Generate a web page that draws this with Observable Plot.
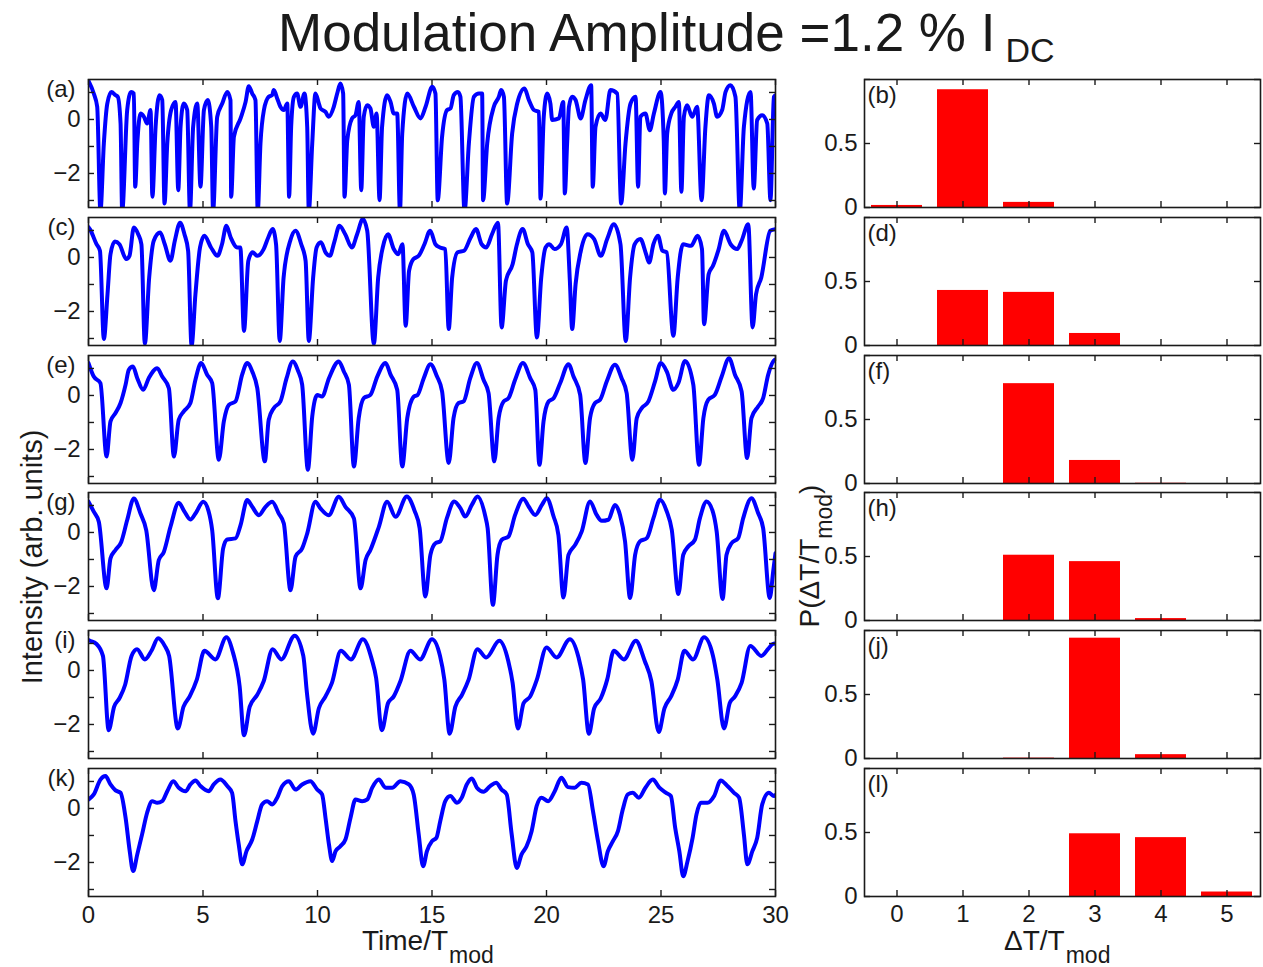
<!DOCTYPE html>
<html><head><meta charset="utf-8">
<script src="https://cdn.jsdelivr.net/npm/d3@7"></script>
<script src="https://cdn.jsdelivr.net/npm/@observablehq/plot@0.6"></script>
<style>
body{margin:0;background:#fff;font-family:"Liberation Sans",Arial,Helvetica,sans-serif;color:#1a1a1a;}
#root{position:relative;width:1263px;height:967px;overflow:hidden;background:#fff;}
#root svg{overflow:visible;max-width:none;}
.lbl{position:absolute;white-space:nowrap;}
.sub{position:relative;}
</style></head><body>
<div id="root">
  <div class="lbl" style="left:278px;top:6px;font-size:53px;line-height:53px;">Modulation Amplitude =1.2 % I<span class="sub" style="font-size:34px;top:11px;margin-left:10px;">DC</span></div>
  <div class="lbl" style="left:362px;top:927px;font-size:28px;line-height:28px;">Time/T<span class="sub" style="font-size:23px;top:13px;margin-left:1px;">mod</span></div>
  <div class="lbl" style="left:1004px;top:927px;font-size:28px;line-height:28px;">ΔT/T<span class="sub" style="font-size:23px;top:13px;margin-left:1px;">mod</span></div>
  <div class="lbl" style="left:32px;top:557px;font-size:29px;line-height:29px;transform:translate(-50%,-50%) rotate(-90deg);">Intensity (arb. units)</div>
  <div class="lbl" style="left:810px;top:556px;font-size:28px;line-height:28px;transform:translate(-50%,-50%) rotate(-90deg);">P(ΔT/T<span class="sub" style="font-size:23px;top:13px;">mod</span>)</div>
</div>
<script>
// ---------- data ----------
const timeTicks = [0, 5, 10, 15, 20, 25, 30];
const intensityTicks = [-3, -2, -1, 0, 1];
const intensityLabels = [-2, 0];
const delayBins = [0, 1, 2, 3, 4, 5];
const probTicks = [0, 0.5, 1];
const probLabels = [0, 0.5];
const leftLabels = ["(a)", "(c)", "(e)", "(g)", "(i)", "(k)"];
const rightLabels = ["(b)", "(d)", "(f)", "(h)", "(j)", "(l)"];

const traceA = [[0,1.43],[0.23,0.96],[0.38,0.47],[0.52,-3.4],[0.67,-0.89],[0.82,0.59],[1.0,1.02],[1.18,0.9],[1.28,0.84],[1.4,-0.15],[1.47,-3.4],[1.69,0.35],[1.86,1.02],[1.98,0.96],[2.04,-2.49],[2.13,-0.89],[2.27,0.22],[2.42,0.1],[2.56,-0.15],[2.71,0.35],[2.79,-2.86],[2.93,-0.27],[3.1,0.9],[3.22,0.72],[3.32,-3.11],[3.44,-0.89],[3.61,0.35],[3.8,0.65],[3.92,-2.62],[4.02,-0.27],[4.16,0.59],[4.31,0.35],[4.43,-3.4],[4.57,-0.27],[4.75,0.59],[4.89,-2.49],[5.04,0.35],[5.21,0.72],[5.36,-0.27],[5.44,-3.4],[5.62,0.1],[5.84,0.59],[6.06,1.02],[6.2,0.72],[6.23,-2.86],[6.35,-0.64],[6.64,0.04],[6.86,0.65],[7.0,1.23],[7.15,0.96],[7.29,0.72],[7.39,-3.4],[7.51,-0.89],[7.66,0.35],[7.87,0.84],[8.02,0.9],[8.09,1.09],[8.24,0.78],[8.38,0.47],[8.53,0.35],[8.68,0.59],[8.76,-2.86],[8.85,-0.27],[8.97,0.84],[9.11,0.96],[9.26,0.47],[9.43,0.96],[9.55,-0.27],[9.62,-3.4],[9.77,-0.89],[9.91,0.96],[10.06,0.59],[10.13,0.41],[10.35,0.28],[10.49,0.1],[10.71,0.47],[10.86,0.96],[11.0,1.33],[11.12,0.96],[11.18,-2.86],[11.3,-0.77],[11.51,0.04],[11.66,0.16],[11.8,0.65],[11.91,-2.62],[12.02,0.1],[12.17,0.53],[12.31,0.41],[12.46,-0.27],[12.58,0.22],[12.71,-2.99],[12.82,-0.27],[13.04,0.9],[13.19,0.65],[13.33,0.22],[13.48,0.22],[13.6,-3.4],[13.7,-0.52],[13.92,0.96],[14.21,0.47],[14.5,0.04],[14.72,0.47],[15.01,1.21],[15.15,0.96],[15.25,-2.99],[15.44,-0.64],[15.66,0.35],[15.81,0.41],[15.95,0.9],[16.13,1.02],[16.24,0.84],[16.42,-3.4],[16.61,-0.89],[16.83,0.84],[17.05,0.96],[17.19,0.96],[17.23,-2.99],[17.41,-0.89],[17.7,0.47],[17.92,0.84],[18.02,1.09],[18.14,0.84],[18.28,-3.11],[18.5,-0.52],[18.72,0.59],[19.04,1.15],[19.23,0.72],[19.45,0.35],[19.67,0.28],[19.74,-2.93],[19.88,0.1],[20.03,0.96],[20.17,0.59],[20.25,-0.02],[20.54,0.04],[20.73,0.65],[20.8,-2.74],[20.9,-0.89],[20.98,0.47],[21.12,0.84],[21.27,0.72],[21.49,0.04],[21.7,0.72],[21.95,1.27],[22.02,-2.49],[22.14,-0.27],[22.36,0.22],[22.57,-0.02],[22.79,1.09],[23.09,0.96],[23.26,-3.11],[23.45,-0.89],[23.67,0.59],[23.89,0.84],[24.0,-2.49],[24.1,0.1],[24.32,0.22],[24.51,-0.4],[24.69,0.22],[24.98,1.02],[25.12,-0.77],[25.17,-2.74],[25.27,-0.52],[25.45,0.22],[25.63,0.47],[25.78,0.65],[25.89,-2.68],[26.0,0.1],[26.14,0.53],[26.36,0.1],[26.58,0.47],[26.77,-2.99],[26.94,-0.27],[27.09,0.9],[27.31,0.59],[27.45,0.1],[27.67,0.35],[27.82,1.02],[28.03,1.27],[28.25,0.84],[28.44,-3.4],[28.62,-0.27],[28.91,1.02],[29.05,-2.56],[29.2,-0.02],[29.42,0.16],[29.64,-0.15],[29.78,-2.99],[29.93,0.84],[30,0.9]];

const traceC = [[0,1.12],[0.06,1.05],[0.35,0.49],[0.5,0.25],[0.67,-3.02],[0.83,-1.36],[0.96,0.12],[1.15,0.59],[1.35,0.49],[1.65,-0.06],[1.79,0.06],[1.98,1.11],[2.17,0.86],[2.31,0.49],[2.46,-3.2],[2.65,-0.74],[2.85,0.62],[3.13,0.92],[3.33,0.49],[3.58,-0.12],[3.77,0.62],[4.0,1.29],[4.19,0.86],[4.35,0.25],[4.5,-3.27],[4.67,-1.36],[4.87,0.37],[5.06,0.8],[5.35,0.37],[5.63,0.06],[5.83,0.49],[6.02,1.17],[6.21,0.74],[6.5,0.37],[6.63,0.37],[6.79,-2.72],[6.98,-0.12],[7.17,0.19],[7.37,0.06],[7.65,0.31],[7.85,0.74],[8.04,1.05],[8.19,0.49],[8.35,-3.09],[8.52,-0.74],[8.81,0.62],[9.04,0.99],[9.29,0.49],[9.48,-0.12],[9.62,-3.09],[9.81,-0.74],[9.96,0.37],[10.15,0.56],[10.35,0.19],[10.54,0.06],[10.73,0.56],[10.96,1.17],[11.21,0.86],[11.5,0.37],[11.73,0.86],[11.98,1.42],[12.17,0.99],[12.46,-3.2],[12.65,-0.74],[12.85,0.37],[13.08,0.86],[13.33,0.31],[13.52,0.12],[13.71,0.49],[13.85,-2.53],[14.0,-0.49],[14.19,-0.06],[14.42,0.06],[14.67,0.49],[14.92,0.99],[15.15,0.49],[15.35,0.37],[15.58,0.31],[15.73,-2.65],[15.88,-0.74],[16.12,0.19],[16.4,0.25],[16.69,0.74],[16.92,1.05],[17.17,0.49],[17.37,0.37],[17.62,0.86],[17.88,1.29],[18.04,-2.59],[18.23,-0.86],[18.52,-0.25],[18.71,0.49],[18.96,1.05],[19.19,0.49],[19.38,0.19],[19.58,-2.96],[19.77,-0.74],[19.96,0.37],[20.12,0.49],[20.35,0.31],[20.63,0.49],[20.88,1.11],[21.02,-0.86],[21.12,-2.65],[21.27,-0.99],[21.5,0.25],[21.79,0.86],[22.08,0.68],[22.37,0.06],[22.65,0.68],[22.94,1.23],[23.23,0.49],[23.46,-3.09],[23.65,-0.74],[23.85,0.49],[24.1,0.68],[24.35,0.12],[24.48,-0.19],[24.67,0.49],[24.87,0.8],[25.06,0.25],[25.25,0.19],[25.54,-2.9],[25.73,-0.74],[25.96,0.49],[26.31,0.43],[26.6,0.8],[26.79,0.31],[26.88,-2.47],[27.08,-0.62],[27.27,-0.31],[27.5,0.25],[27.75,0.99],[28.04,0.49],[28.33,0.31],[28.52,0.62],[28.81,1.23],[29.0,-2.59],[29.15,-1.36],[29.38,-0.74],[29.77,0.99],[30,1.05]];

const traceE = [[0,1.2],[0.23,0.7],[0.52,0.46],[0.79,-2.26],[0.96,-0.96],[1.18,-0.65],[1.4,-0.28],[1.62,0.4],[1.76,0.95],[1.94,1.07],[2.13,0.64],[2.39,0.21],[2.63,0.64],[3.0,1.01],[3.22,0.7],[3.51,0.27],[3.73,-2.26],[3.94,-0.9],[4.16,-0.59],[4.45,-0.28],[4.67,0.58],[4.92,1.2],[5.18,0.77],[5.4,0.46],[5.69,-2.38],[5.91,-0.96],[6.13,-0.35],[6.42,-0.22],[6.71,0.77],[6.93,1.2],[7.15,0.89],[7.37,0.27],[7.7,-2.44],[7.87,-0.9],[8.09,-0.47],[8.38,-0.22],[8.65,0.64],[8.92,1.26],[9.16,0.89],[9.33,0.4],[9.58,-2.75],[9.77,-0.78],[9.99,0.02],[10.2,-0.04],[10.5,0.64],[10.93,1.26],[11.15,0.89],[11.37,0.4],[11.59,-2.63],[11.8,-0.84],[12.02,-0.1],[12.31,0.02],[12.61,0.7],[12.97,1.2],[13.19,0.77],[13.48,0.21],[13.7,-2.63],[13.92,-0.84],[14.21,-0.04],[14.37,0.02],[14.64,0.64],[14.93,1.16],[15.22,0.7],[15.44,0.15],[15.73,-2.5],[15.94,-0.84],[16.16,-0.28],[16.38,-0.22],[16.67,0.64],[16.96,1.2],[17.25,0.58],[17.47,0.09],[17.72,-2.44],[17.91,-0.84],[18.13,-0.22],[18.34,-0.1],[18.63,0.58],[18.97,1.2],[19.29,0.64],[19.51,0.21],[19.69,-2.57],[19.87,-0.96],[20.09,-0.22],[20.31,-0.1],[20.6,0.46],[20.96,1.16],[21.18,0.7],[21.47,0.02],[21.7,-2.5],[21.9,-0.84],[22.12,-0.28],[22.34,-0.16],[22.63,0.52],[22.99,1.14],[23.28,0.64],[23.5,0.09],[23.75,-2.38],[23.94,-0.84],[24.16,-0.47],[24.45,-0.22],[24.74,0.52],[24.99,1.2],[25.25,0.89],[25.54,0.21],[25.76,0.46],[26.05,1.28],[26.41,0.4],[26.66,-2.57],[26.85,-0.84],[27.06,-0.16],[27.35,0.02],[27.65,0.7],[27.97,1.38],[28.23,0.77],[28.52,0.15],[28.76,-2.32],[28.95,-0.84],[29.24,-0.41],[29.46,-0.1],[29.68,0.77],[29.97,1.32],[30,1.33]];

const traceG = [[0,1.14],[0.23,0.77],[0.45,0.4],[0.79,-2.07],[0.96,-0.96],[1.18,-0.65],[1.43,-0.35],[1.69,0.46],[1.98,1.26],[2.27,0.7],[2.52,0.09],[2.85,-2.14],[3.07,-1.02],[3.29,-0.72],[3.58,0.21],[3.94,1.1],[4.19,0.77],[4.45,0.48],[4.67,0.7],[5.01,1.14],[5.25,0.77],[5.4,0.09],[5.65,-2.44],[5.88,-0.59],[6.06,-0.26],[6.42,-0.22],[6.64,0.27],[6.93,1.2],[7.15,0.95],[7.44,0.64],[7.73,0.95],[8.02,1.14],[8.31,0.7],[8.53,0.33],[8.82,-2.14],[9.04,-0.9],[9.33,-0.59],[9.55,-0.04],[9.91,1.14],[10.13,0.89],[10.49,0.64],[10.93,1.32],[11.22,0.95],[11.59,0.52],[11.88,-2.07],[12.1,-1.02],[12.31,-0.65],[12.68,0.21],[13.04,1.14],[13.41,0.58],[13.9,1.33],[14.24,0.8],[14.46,0.16],[14.71,-2.37],[14.93,-0.83],[15.15,-0.4],[15.36,-0.33],[15.65,0.53],[15.97,1.15],[16.24,0.9],[16.45,0.59],[16.74,1.02],[16.99,1.33],[17.33,0.59],[17.43,0.16],[17.66,-2.68],[17.86,-0.83],[18.05,-0.27],[18.34,-0.15],[18.63,0.65],[18.99,1.25],[19.22,0.96],[19.51,0.65],[19.8,1.02],[20.01,1.27],[20.31,0.59],[20.52,-0.09],[20.74,-2.41],[20.96,-0.83],[21.25,-0.46],[21.54,0.04],[21.9,1.15],[22.19,0.65],[22.41,0.43],[22.7,0.47],[22.99,1.02],[23.21,0.65],[23.43,-0.33],[23.65,-2.43],[23.87,-0.83],[24.08,-0.33],[24.38,-0.21],[24.67,0.53],[24.96,1.21],[25.25,0.78],[25.47,0.1],[25.76,-2.28],[25.97,-0.83],[26.19,-0.52],[26.48,-0.27],[26.7,0.53],[26.99,1.15],[27.28,0.72],[27.43,0.04],[27.69,-2.46],[27.86,-0.83],[28.08,-0.4],[28.37,-0.21],[28.59,0.53],[28.95,1.27],[29.24,0.72],[29.46,0.16],[29.75,-2.43],[29.9,-1.44],[30,-0.77]];

const traceI = [[0,1.12],[0.06,1.1],[0.35,0.98],[0.63,0.54],[0.88,-2.21],[1.12,-1.34],[1.35,-1.03],[1.6,-0.53],[1.88,0.54],[2.12,0.79],[2.46,0.41],[2.75,0.73],[3.04,1.19],[3.33,0.91],[3.52,0.54],[3.9,-2.15],[4.15,-1.34],[4.42,-0.96],[4.73,-0.34],[5.06,0.73],[5.54,0.41],[6.02,1.23],[6.31,0.66],[6.6,-0.59],[6.79,-2.4],[7.04,-1.34],[7.37,-0.9],[7.65,-0.4],[8.04,0.79],[8.42,0.41],[9.0,1.29],[9.38,0.54],[9.54,-0.84],[9.81,-2.34],[10.06,-1.4],[10.35,-0.96],[10.63,-0.46],[11.02,0.73],[11.46,0.41],[11.98,1.16],[12.37,0.41],[12.56,-0.28],[12.81,-2.21],[13.08,-1.21],[13.33,-0.96],[13.62,-0.4],[14.06,0.73],[14.48,0.41],[15.0,1.16],[15.35,0.54],[15.54,-0.34],[15.77,-2.34],[16.02,-1.34],[16.31,-0.9],[16.6,-0.34],[16.98,0.79],[17.37,0.48],[17.94,1.1],[18.33,0.35],[18.52,-0.46],[18.75,-2.15],[19.0,-1.21],[19.29,-0.96],[19.58,-0.34],[20.0,0.85],[20.44,0.48],[21.02,1.16],[21.4,0.48],[21.6,-0.34],[21.85,-2.34],[22.08,-1.4],[22.37,-1.03],[22.65,-0.34],[22.94,0.73],[23.38,0.41],[23.9,1.1],[24.29,0.35],[24.58,-0.4],[24.9,-2.28],[25.15,-1.4],[25.44,-0.96],[25.73,-0.34],[26.02,0.73],[26.4,0.41],[26.88,1.23],[27.27,0.54],[27.46,-0.34],[27.75,-2.15],[28.0,-1.21],[28.23,-0.96],[28.52,-0.46],[28.9,0.91],[29.38,0.54],[29.67,0.79],[29.88,0.98],[30,1.0]];

const traceK = [[0,0.33],[0.23,0.52],[0.52,1.07],[0.74,1.2],[0.96,0.89],[1.18,0.67],[1.4,0.58],[1.62,-0.35],[1.8,-1.58],[1.95,-2.32],[2.13,-1.7],[2.34,-0.96],[2.56,-0.16],[2.78,0.27],[3.0,0.21],[3.22,0.27],[3.44,0.64],[3.7,1.01],[3.94,0.77],[4.24,0.64],[4.45,0.89],[4.67,1.04],[4.89,0.83],[5.25,0.64],[5.47,0.89],[5.76,1.07],[6.06,0.83],[6.27,0.58],[6.42,-0.47],[6.56,-1.33],[6.71,-2.07],[6.9,-1.58],[7.15,-1.15],[7.37,-0.47],[7.58,0.15],[7.8,0.27],[8.02,0.15],[8.24,0.4],[8.46,0.83],[8.75,1.01],[9.04,0.7],[9.33,0.89],[9.69,1.01],[9.99,0.7],[10.2,0.52],[10.35,-0.35],[10.5,-1.33],[10.64,-1.95],[10.79,-1.58],[11.0,-1.4],[11.22,-1.15],[11.44,-0.35],[11.66,0.33],[11.95,0.27],[12.17,0.33],[12.39,0.77],[12.68,1.07],[12.97,0.77],[13.26,0.77],[13.62,1.01],[13.99,0.89],[14.2,0.52],[14.42,-0.96],[14.61,-2.14],[14.78,-1.58],[15.0,-1.21],[15.19,-1.09],[15.36,-0.47],[15.58,0.27],[15.8,0.46],[16.09,0.21],[16.3,0.4],[16.52,0.89],[16.74,1.11],[16.96,0.77],[17.25,0.62],[17.54,0.83],[17.8,0.95],[18.04,0.7],[18.26,0.52],[18.48,-0.96],[18.7,-2.2],[18.91,-1.7],[19.13,-1.4],[19.35,-0.84],[19.57,0.09],[19.78,0.4],[20.07,0.27],[20.36,0.64],[20.65,1.14],[20.94,0.79],[21.23,0.77],[21.52,0.95],[21.81,0.89],[22.03,-0.1],[22.25,-1.21],[22.49,-2.14],[22.68,-1.58],[22.9,-1.21],[23.12,-0.84],[23.33,-0.04],[23.55,0.52],[23.77,0.58],[24.03,0.4],[24.32,0.77],[24.64,1.07],[24.93,0.77],[25.22,0.58],[25.43,0.46],[25.62,-0.72],[25.8,-1.58],[25.97,-2.51],[26.16,-1.95],[26.38,-1.09],[26.55,-0.22],[26.74,0.21],[27.03,0.21],[27.32,0.46],[27.61,1.04],[27.9,0.83],[28.19,0.58],[28.41,0.4],[28.62,-0.96],[28.77,-2.07],[28.99,-1.58],[29.2,-1.09],[29.42,0.15],[29.71,0.58],[29.93,0.46],[30,0.5]];

const probB = [0.016, 0.92, 0.04, 0, 0, 0];
const probD = [0, 0.43, 0.415, 0.094, 0, 0];
const probF = [0, 0, 0.78, 0.18, 0.002, 0];
const probH = [0, 0, 0.51, 0.46, 0.015, 0];
const probJ = [0, 0, 0.003, 0.94, 0.03, 0];
const probL = [0, 0, 0, 0.49, 0.46, 0.035];

// ---------- drawing ----------
const leftTraces = [traceA, traceC, traceE, traceG, traceI, traceK];
const rightProbs = [probB, probD, probF, probH, probJ, probL];
const root = document.getElementById("root");
const font = "'Liberation Sans', Arial, Helvetica, sans-serif";
const ink = "#1a1a1a";
const panelH = 128;
const rowTop = i => 79 + i * 137.8;
const minusFmt = d => d < 0 ? "\u2212" + Math.abs(d) : String(d);

function place(el, left, top) {
  el.style.position = "absolute";
  el.style.left = left + "px";
  el.style.top = top + "px";
  root.appendChild(el);
}

leftTraces.forEach((trace, i) => {
  const last = i === 5;
  const mt = 10, mb = last ? 50 : 10;
  const W = 790, ml = 88, mr = 15, pw = W - ml - mr;
  const marks = [
    Plot.line(trace, {x: d => d[0], y: d => d[1], stroke: "#0000ff", strokeWidth: 4, curve: "monotone-x", clip: true, strokeLinejoin: "round"}),
    Plot.tickX(timeTicks, {x: d => d, insetTop: panelH - 6, stroke: ink, strokeWidth: 1.4}),
    Plot.tickX(timeTicks, {x: d => d, insetBottom: panelH - 6, stroke: ink, strokeWidth: 1.4}),
    Plot.tickY(intensityTicks, {y: d => d, insetRight: pw - 6, stroke: ink, strokeWidth: 1.4}),
    Plot.tickY(intensityTicks, {y: d => d, insetLeft: pw - 6, stroke: ink, strokeWidth: 1.4}),
    Plot.axisY(intensityLabels, {tickSize: 0, tickPadding: 8, tickFormat: minusFmt, fontSize: 24, fill: ink, label: null}),
    Plot.frame({stroke: ink, strokeWidth: 1.6}),
    Plot.text([leftLabels[i]], {text: d => d, frameAnchor: "top-left", dx: -13, dy: 10, textAnchor: "end", lineAnchor: "middle", fontSize: 24, fill: ink})
  ];
  if (last) marks.push(Plot.axisX(timeTicks, {tickSize: 0, tickPadding: 9, fontSize: 24, fill: ink, label: null}));
  const p = Plot.plot({
    width: W, height: panelH + mt + mb,
    marginLeft: ml, marginRight: mr, marginTop: mt, marginBottom: mb,
    x: {domain: [0, 30], axis: null, label: null},
    y: {domain: [-3.26, 1.48], axis: null, label: null},
    style: {fontFamily: font, fontSize: "24px", color: ink, background: "transparent", overflow: "visible", maxWidth: "none"},
    marks
  });
  place(p, 0, rowTop(i) - mt);
});

rightProbs.forEach((probs, i) => {
  const last = i === 5;
  const mt = 10, mb = last ? 50 : 10;
  const W = 463, ml = 64, mr = 3, pw = W - ml - mr;
  const data = delayBins.map((k, j) => ({k, p: probs[j]}));
  const marks = [
    Plot.barY(data, {x: "k", y: "p", fill: "#ff0000"}),
    Plot.tickX(delayBins, {x: d => d, insetTop: panelH - 6, stroke: ink, strokeWidth: 1.4}),
    Plot.tickX(delayBins, {x: d => d, insetBottom: panelH - 6, stroke: ink, strokeWidth: 1.4}),
    Plot.tickY(probTicks, {y: d => d, insetRight: pw - 6, stroke: ink, strokeWidth: 1.4}),
    Plot.tickY(probTicks, {y: d => d, insetLeft: pw - 6, stroke: ink, strokeWidth: 1.4}),
    Plot.axisY(probLabels, {tickSize: 0, tickPadding: 7, tickFormat: d => String(d), fontSize: 24, fill: ink, label: null}),
    Plot.frame({stroke: ink, strokeWidth: 1.6}),
    Plot.text([rightLabels[i]], {text: d => d, frameAnchor: "top-left", dx: 3, dy: 16, textAnchor: "start", lineAnchor: "middle", fontSize: 24, fill: ink})
  ];
  if (last) marks.push(Plot.axisX(delayBins, {tickSize: 0, tickPadding: 8, fontSize: 24, fill: ink, label: null}));
  const p = Plot.plot({
    width: W, height: panelH + mt + mb,
    marginLeft: ml, marginRight: mr, marginTop: mt, marginBottom: mb,
    x: {type: "band", domain: delayBins, paddingInner: 0.22, paddingOuter: 0.11, axis: null, label: null},
    y: {domain: [0, 1], axis: null, label: null},
    style: {fontFamily: font, fontSize: "24px", color: ink, background: "transparent", overflow: "visible", maxWidth: "none"},
    marks
  });
  place(p, 800, rowTop(i) - mt);
});
</script>
</body></html>
